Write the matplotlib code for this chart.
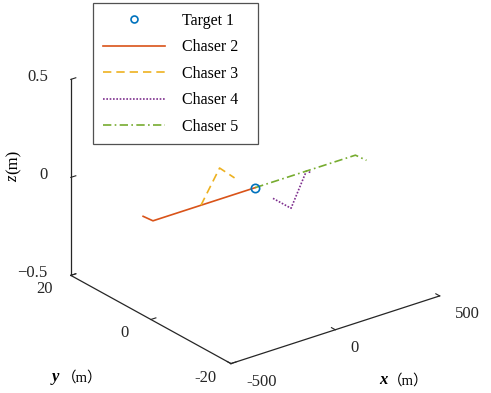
import numpy as np
import matplotlib
matplotlib.use("Agg")
import matplotlib.pyplot as plt
from matplotlib.lines import Line2D
from mpl_toolkits.mplot3d import proj3d

plt.rcParams['font.family']=['Liberation Serif','Noto Sans CJK SC']

# trajectories (x in m, y in m, z in m)
target_x=[0]
target_y=[0]
target_z=[0]

c2_x=[0,-490,-495]
c2_y=[0,0,2.2]
c2_z=[0,0,0]

c3_x=[-260,0,-9]
c3_y=[0,8.9,4.7]
c3_z=[0,0,0]

c4_x=[-5,-5,245,250]
c4_y=[-4.7,-9.2,0,-0.8]
c4_z=[0,0,0,0]

c5_x=[0,480,485]
c5_y=[0,0,-2.5]
c5_z=[0,0,0]

xticks=[-500,0,500]
yticks=[-20,0,20]
zticks=[-0.5,0,0.5]
xticklabels=['-500','0','500']
yticklabels=['-20','0','20']
zticklabels=['\u22120.5','0','0.5']

W,H=491,393
fig=plt.figure(figsize=(W/100,H/100),dpi=100)
ax=fig.add_axes([0.009,0.009,1.0,1.0],projection='3d',proj_type='ortho')
ax.view_init(elev=25,azim=-127.5)
ax.set_box_aspect((1,1,0.822),zoom=1.063)

lw=1.2
ax.plot(c2_x,c2_y,c2_z,color='#D95319',lw=lw,ls='-')
ax.plot(c3_x,c3_y,c3_z,color='#EDB120',lw=lw,ls=(0,(5,3)))
ax.plot(c4_x,c4_y,c4_z,color='#7E2F8E',lw=lw,ls=(0,(1,1)))
ax.plot(c5_x,c5_y,c5_z,color='#77AC30',lw=lw,ls=(0,(5,2,1,2)))
ax.plot(target_x,target_y,target_z,'o',mfc='none',mec='#0072BD',ms=6,mew=1.2)

ax.set_xlim(-500,500)
ax.set_ylim(-20,20)
ax.set_zlim(-0.5,0.5)
ax.set_xticks(xticks)
ax.set_yticks(yticks)
ax.set_zticks(zticks)

ax.grid(False)
for a in (ax.xaxis,ax.yaxis,ax.zaxis):
    a.set_pane_color((1,1,1,0))
    a.pane.set_edgecolor('none')
    a.line.set_color('#262626')
    a.line.set_linewidth(0.9)
    a.set_tick_params(colors='#262626')
    a._axinfo['tick']['inward_factor']=0.0
    a._axinfo['tick']['outward_factor']=0.3
    a.label.set_visible(False)
    for tk in a.get_major_ticks():
        tk.label1.set_visible(False)
        tk.label2.set_visible(False)

fig.canvas.draw()

def tick_text(x,y,z,s,dx,dy,ha):
    # project the 3d tick point, then offset it by some pixels
    px,py,_=proj3d.proj_transform(x,y,z,ax.M)
    X,Y=ax.transData.transform((px,py))
    fig.text((X+dx)/W,(Y-dy)/H,s,fontsize=12,ha=ha,va='center',color='#262626')

for t,s in zip(xticks,xticklabels):
    tick_text(t,-20,-0.5,s,15,18,'left')
for t,s in zip(yticks,yticklabels):
    tick_text(-500,t,-0.5,s,-26,14,'center')
for t,s in zip(zticks,zticklabels):
    tick_text(-500,20,t,s,-23,-2,'right')

# axis labels
fig.text(0.027,0.545,'z',rotation=90,fontsize=12,ha='center',va='center',fontstyle='italic')
fig.text(0.027,0.587,'(m)',rotation=90,fontsize=12,ha='center',va='center')
fig.text(0.106,0.04,'y',fontsize=12,fontweight='bold',fontstyle='italic',ha='left',va='center')
fig.text(0.126,0.04,'（m）',fontsize=10.5,ha='left',va='center')
fig.text(0.772,0.032,'x',fontsize=12,fontweight='bold',fontstyle='italic',ha='left',va='center')
fig.text(0.790,0.032,'（m）',fontsize=10.5,ha='left',va='center')

handles=[
    Line2D([],[],ls='none',marker='o',mfc='none',mec='#0072BD',ms=5,mew=1.2),
    Line2D([],[],color='#D95319',lw=lw,ls='-'),
    Line2D([],[],color='#EDB120',lw=lw,ls=(0,(5,3))),
    Line2D([],[],color='#7E2F8E',lw=lw,ls=(0,(1,1))),
    Line2D([],[],color='#77AC30',lw=lw,ls=(0,(5,2,1,2))),
]
labels=['Target 1','Chaser 2','Chaser 3','Chaser 4','Chaser 5']
leg=fig.legend(handles,labels,loc='upper left',
               bbox_to_anchor=(93/W,1-140/H,165/W,137/H),mode='expand',
               fontsize=11.5,frameon=True,fancybox=False,handlelength=3.9,
               borderpad=0.6,labelspacing=0.66,handletextpad=1.05,borderaxespad=0)
leg.get_frame().set_edgecolor('#262626')
leg.get_frame().set_linewidth(0.9)

fig.savefig("out.png",dpi=100)
